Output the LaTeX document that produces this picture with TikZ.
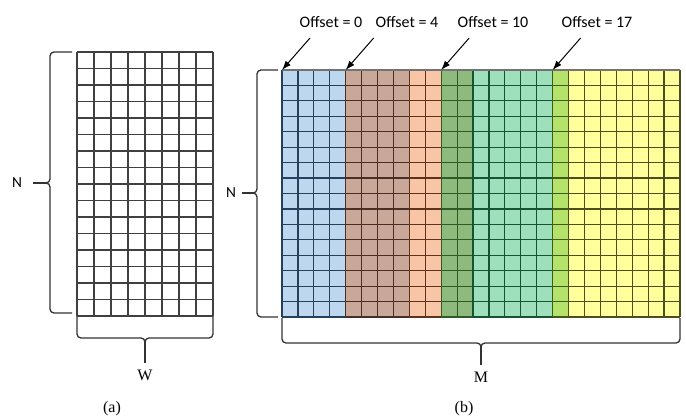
\documentclass[tikz,border=0pt]{standalone}
\usepackage{fontspec}
\setmainfont{Liberation Serif}
\newfontfamily\calib{Carlito}
\usepackage{tikz}
\usetikzlibrary{arrows.meta,calc}
\definecolor{cblue}{HTML}{BDD7EE}   \definecolor{lblue}{HTML}{24405C}
\definecolor{cbrown}{HTML}{C9A799}  \definecolor{lbrown}{HTML}{4A2E24}
\definecolor{cpeach}{HTML}{F8C6A6}  \definecolor{lpeach}{HTML}{5E321C}
\definecolor{cdkgreen}{HTML}{8EBA7E}\definecolor{ldkgreen}{HTML}{2F5A26}
\definecolor{cmint}{HTML}{9EDFBC}   \definecolor{lmint}{HTML}{175234}
\definecolor{clime}{HTML}{B5E26A}   \definecolor{llime}{HTML}{405C18}
\definecolor{cyellow}{HTML}{FFFF9C} \definecolor{lyellow}{HTML}{4E4E1C}
\def\colw{15.92}
\def\rowh{15.44}
\tikzset{
  cellline/.style={line width=0.9pt},
  brc/.style={draw=black!80,line width=1pt,rounded corners=3pt},
  offarr/.style={-{Latex[length=7pt,width=5pt]},line width=0.75pt},
  offlbl/.style={font=\calib\fontsize{12}{14}\selectfont,inner sep=0pt},
  nlbl/.style={font=\calib\fontsize{11.5}{13}\selectfont,inner sep=0pt},
  dimlbl/.style={font=\fontsize{12}{14}\selectfont,inner sep=0pt},
  caplbl/.style={font=\fontsize{12}{14}\selectfont,inner sep=0pt},
}

\begin{document}
\begin{tikzpicture}[x=0.75pt,y=-0.75pt]
\fill[white] (0,0) rectangle (686,416);
\useasboundingbox (0,0) rectangle (686,416);
% (a) plain matrix
\foreach \i in {0,...,16} \draw[cellline,draw=black!75] (77,{52+\i*16.5}) -- (213,{52+\i*16.5});
\foreach \j in {0,...,8} \draw[cellline,draw=black!75] ({77+\j*17},52) -- ({77+\j*17},316);
% (b) packed matrix
\foreach \st/\nc/\fc/\lc in {0/4/cblue/lblue,4/4/cbrown/lbrown,8/2/cpeach/lpeach,10/2/cdkgreen/ldkgreen,
    12/5/cmint/lmint,17/1/clime/llime,18/7/cyellow/lyellow}{
  \fill[\fc] ({282+\st*\colw},70) rectangle ({282+(\st+\nc)*\colw},317);
  \foreach \i in {0,...,16}
    \draw[cellline,draw=\lc] ({282+\st*\colw},{70+\i*\rowh}) -- ({282+(\st+\nc)*\colw},{70+\i*\rowh});
  \foreach \j in {0,...,\nc}
    \draw[cellline,draw=\lc] ({282+(\st+\j)*\colw},70) -- ({282+(\st+\j)*\colw},317);
}
\draw[cellline,draw=black!55] (282,70) -- (680,70);

\node[offlbl] (o0) at (331,22) {Offset = 0};
\node[offlbl] (o4) at (407,22) {Offset = 4};
\node[offlbl] (o10) at (493,22) {Offset = 10};
\node[offlbl] (o17) at (597,22) {Offset = 17};
\foreach \k/\c in {0/0,4/4,10/10,17/17}{
  \coordinate (h\k) at ({282+\c*\colw},70);
  \coordinate (t\k) at ({310+\c*\colw},38);
  \draw[offarr] (t\k) -- (h\k);
}

% braces
\draw[brc] (72,52) -| (50,183) -- (46,183);
\draw[brc] (72,313) -| (50,183) -- (46,183);
\coordinate (tl) at (46,183);
\node[nlbl] (nl) at (17,183) {N};
\draw[brc,shorten <=8pt] (nl.east) -- (tl);

\draw[brc] (278,70) -| (257,193) -- (253,193);
\draw[brc] (278,317) -| (257,193) -- (253,193);
\coordinate (tr) at (253,193);
\node[nlbl] (nr) at (231,193) {N};
\draw[brc,shorten <=4.5pt] (nr.east) -- (tr);

\draw[brc] (77,316) |- (145,338) -- (145,342);
\draw[brc] (213,316) |- (145,338) -- (145,342);
\coordinate (tw) at (145,342);
\node[dimlbl] (w) at (145,375) {W};
\draw[brc,shorten >=5pt] (tw) -- (w.north);

\draw[brc] (282,318) |- (481,343) -- (481,347);
\draw[brc] (680,318) |- (481,343) -- (481,347);
\coordinate (tm) at (481,347);
\node[dimlbl] (m) at (481,377) {M};
\draw[brc,shorten >=5pt] (tm) -- (m.north);

\node[caplbl] (capa) at (112,409) {(a)};
\node[caplbl] (capb) at (464,409) {(b)};
\end{tikzpicture}
\end{document}
